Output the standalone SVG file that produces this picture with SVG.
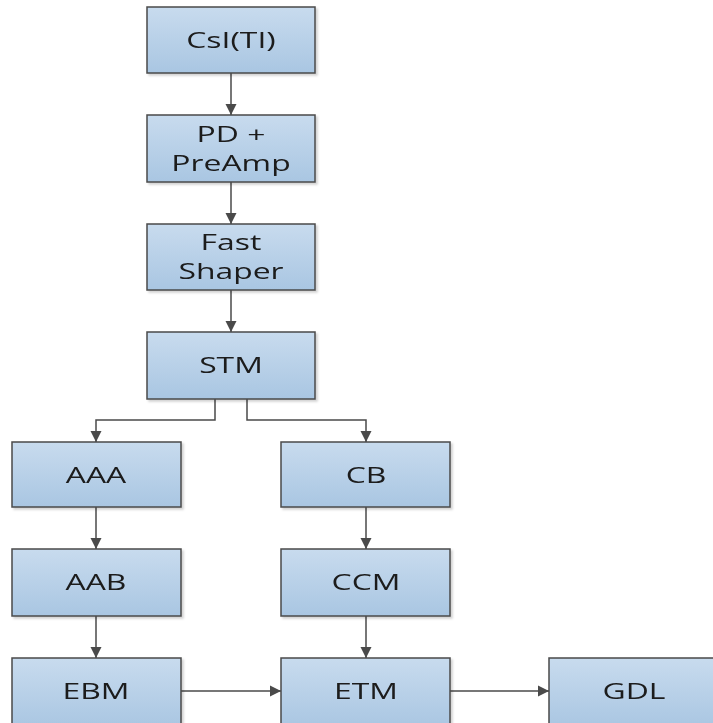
<svg xmlns="http://www.w3.org/2000/svg" width="713" height="723" viewBox="0 0 713 723">
  <style>
    .box { fill: url(#boxFill); stroke: #4a4a4a; stroke-width: 1.5; }
    .lbl { font-family: "Open Sans", "Liberation Sans", sans-serif; font-size: 22px; fill: #1a1a1a; text-anchor: middle; dominant-baseline: central; }
    .wire { fill: none; stroke: #4a4a4a; stroke-width: 1.5; marker-end: url(#head); }
  </style>
  <defs>
    <linearGradient id="boxFill" x1="0" y1="0" x2="0" y2="1">
      <stop offset="0" stop-color="#c8dbee"/>
      <stop offset="1" stop-color="#a9c6e2"/>
    </linearGradient>
    <filter id="shadow" x="-10%" y="-10%" width="130%" height="130%">
      <feDropShadow dx="2" dy="2" stdDeviation="1.2" flood-color="#000" flood-opacity="0.18"/>
    </filter>
    <marker id="head" viewBox="0 0 10 10" refX="10" refY="5" markerWidth="11" markerHeight="12" markerUnits="userSpaceOnUse" orient="auto">
      <path d="M0,0 L10,5 L0,10 Z" fill="#4a4a4a"/>
    </marker>
  </defs>

  <rect width="713" height="723" fill="#ffffff"/>

  <g id="connectors">
    <path class="wire" d="M231,73 V115"/>
    <path class="wire" d="M231,182 V224"/>
    <path class="wire" d="M231,290 V332"/>
    <path class="wire" d="M215,399 V420 H96 V442"/>
    <path class="wire" d="M247,399 V420 H366 V442"/>
    <path class="wire" d="M96,507 V549"/>
    <path class="wire" d="M96,616 V658"/>
    <path class="wire" d="M366,507 V549"/>
    <path class="wire" d="M366,616 V658"/>
    <path class="wire" d="M181,691 H281"/>
    <path class="wire" d="M450,691 H549"/>
  </g>

  <!-- labels are drawn wide: scaled 1.45x horizontally about their centre -->
  <g id="csi" filter="url(#shadow)">
    <rect class="box" x="147" y="7" width="168" height="66"/>
    <text class="lbl" transform="translate(231,40) scale(1.45,1)">CsI(TI)</text>
  </g>
  <g id="pd-preamp" filter="url(#shadow)">
    <rect class="box" x="147" y="115" width="168" height="67"/>
    <text class="lbl" transform="translate(231,134) scale(1.45,1)">PD +</text>
    <text class="lbl" transform="translate(231,163) scale(1.45,1)">PreAmp</text>
  </g>
  <g id="fast-shaper" filter="url(#shadow)">
    <rect class="box" x="147" y="224" width="168" height="66"/>
    <text class="lbl" transform="translate(231,242) scale(1.45,1)">Fast</text>
    <text class="lbl" transform="translate(231,271) scale(1.45,1)">Shaper</text>
  </g>
  <g id="stm" filter="url(#shadow)">
    <rect class="box" x="147" y="332" width="168" height="67"/>
    <text class="lbl" transform="translate(231,365) scale(1.45,1)">STM</text>
  </g>
  <g id="aaa" filter="url(#shadow)">
    <rect class="box" x="12" y="442" width="169" height="65"/>
    <text class="lbl" transform="translate(96,475) scale(1.45,1)">AAA</text>
  </g>
  <g id="cb" filter="url(#shadow)">
    <rect class="box" x="281" y="442" width="169" height="65"/>
    <text class="lbl" transform="translate(366,475) scale(1.45,1)">CB</text>
  </g>
  <g id="aab" filter="url(#shadow)">
    <rect class="box" x="12" y="549" width="169" height="67"/>
    <text class="lbl" transform="translate(96,582) scale(1.45,1)">AAB</text>
  </g>
  <g id="ccm" filter="url(#shadow)">
    <rect class="box" x="281" y="549" width="169" height="67"/>
    <text class="lbl" transform="translate(366,582) scale(1.45,1)">CCM</text>
  </g>
  <g id="ebm" filter="url(#shadow)">
    <rect class="box" x="12" y="658" width="169" height="70"/>
    <text class="lbl" transform="translate(96,691) scale(1.45,1)">EBM</text>
  </g>
  <g id="etm" filter="url(#shadow)">
    <rect class="box" x="281" y="658" width="169" height="70"/>
    <text class="lbl" transform="translate(366,691) scale(1.45,1)">ETM</text>
  </g>
  <g id="gdl" filter="url(#shadow)">
    <rect class="box" x="549" y="658" width="172" height="70"/>
    <text class="lbl" transform="translate(634,691) scale(1.45,1)">GDL</text>
  </g>
</svg>
